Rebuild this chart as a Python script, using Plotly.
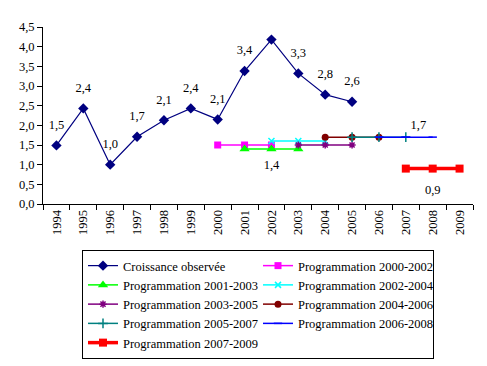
import plotly.graph_objects as go

years = [str(y) for y in range(1994, 2010)]

obs_years = ["1994", "1995", "1996", "1997", "1998", "1999", "2000", "2001", "2002", "2003", "2004", "2005"]
obs_vals = [1.49, 2.43, 1.0, 1.71, 2.13, 2.43, 2.15, 3.38, 4.18, 3.32, 2.78, 2.6]

prog_names = ["Programmation 2000-2002", "Programmation 2001-2003", "Programmation 2002-2004",
              "Programmation 2003-2005", "Programmation 2004-2006", "Programmation 2005-2007",
              "Programmation 2006-2008", "Programmation 2007-2009"]
prog_years = [
    ["2000", "2001", "2002"],
    ["2001", "2002", "2003"],
    ["2002", "2003", "2004"],
    ["2003", "2004", "2005"],
    ["2004", "2005", "2006"],
    ["2005", "2006", "2007"],
    ["2006", "2007", "2008"],
    ["2007", "2008", "2009"],
]
prog_vals = [
    [1.5, 1.5, 1.5],
    [1.4, 1.4, 1.4],
    [1.6, 1.6, 1.6],
    [1.5, 1.5, 1.5],
    [1.7, 1.7, 1.7],
    [1.7, 1.7, 1.7],
    [1.7, 1.7, 1.7],
    [0.9, 0.9, 0.9],
]
# which point of each programme carries a data label: (index, position, spacer size)
prog_labels = [None, (1, "bottom center", 16), None, None, None, None, (1, "top right", 6), (1, "bottom center", 24)]

colors = ["#FF00FF", "#00FF00", "#00FFFF", "#800080", "#800000", "#008080", "#0000FF", "#FF0000"]
symbols = ["square", "triangle-up", "x-thin", "asterisk", "circle", "cross-thin", "line-ew", "square"]
sizes = [7, 9, 6, 6, 7, 7, 6, 8]
widths = [1.5, 1.5, 1.5, 1.5, 1.5, 1.5, 1.5, 3.5]

FONT = "Times New Roman"
FS = 12.5
W, H = 479, 358  # page body adds an 8px margin
fig = go.Figure()

fig.add_trace(go.Scatter(
    x=obs_years, y=obs_vals, mode="lines+markers", name="Croissance observée",
    line=dict(color="#000080", width=1.2),
    marker=dict(symbol="diamond", size=8, color="#000080"),
))

for i, name in enumerate(prog_names):
    thin = symbols[i] in ("x-thin", "asterisk", "cross-thin", "line-ew")
    fig.add_trace(go.Scatter(
        x=prog_years[i], y=prog_vals[i], mode="lines+markers", name=name,
        line=dict(color=colors[i], width=widths[i]),
        marker=dict(symbol=symbols[i], size=sizes[i], color=colors[i],
                    line=dict(color=colors[i], width=1.5 if thin else 0)),
    ))

# data labels (transparent spacer markers push the text away from the points)
fig.add_trace(go.Scatter(
    x=obs_years, y=obs_vals, mode="markers+text",
    text=[f"{v:.1f}".replace(".", ",") for v in obs_vals],
    textposition="top center", showlegend=False, hoverinfo="skip",
    marker=dict(size=20, color="rgba(0,0,0,0)"),
    textfont=dict(family=FONT, size=FS, color="black"),
))
for i, lab in enumerate(prog_labels):
    if lab is None:
        continue
    k, pos, sp = lab
    fig.add_trace(go.Scatter(
        x=[prog_years[i][k]], y=[prog_vals[i][k]], mode="markers+text",
        text=[f"{prog_vals[i][k]:.1f}".replace(".", ",")],
        textposition=pos, showlegend=False, hoverinfo="skip",
        marker=dict(size=sp, color="rgba(0,0,0,0)"),
        textfont=dict(family=FONT, size=FS, color="black"),
    ))

fig.update_layout(
    width=W, height=H,
    margin=dict(l=35, r=14, t=19, b=162, autoexpand=False),
    paper_bgcolor="white", plot_bgcolor="white",
    font=dict(family=FONT, size=FS, color="black"),
    separators=", ",
    showlegend=True,
    legend=dict(
        orientation="h", xref="container", yref="container",
        x=74 / W, y=1 - 242 / H, xanchor="left", yanchor="top",
        bordercolor="black", borderwidth=1, bgcolor="white",
        entrywidth=130, entrywidthmode="pixels",
        font=dict(family=FONT, size=FS, color="black"),
        tracegroupgap=0,
    ),
    xaxis=dict(
        type="category", categoryorder="array", categoryarray=years,
        range=[-0.5, 15.5], tickson="boundaries", ticks="outside", ticklen=5,
        tickcolor="black", showline=True, linecolor="black", linewidth=1,
        showgrid=False, tickangle=-90, zeroline=False, automargin=False,
        tickfont=dict(family=FONT, size=FS),
    ),
    yaxis=dict(
        range=[0, 4.5], dtick=0.5, tick0=0, tickformat=".1f",
        ticks="outside", ticklen=5, tickcolor="black", automargin=False,
        showline=True, linecolor="black", linewidth=1, showgrid=False, zeroline=False,
        tickfont=dict(family=FONT, size=FS),
    ),
)

fig.write_html("out.html")
